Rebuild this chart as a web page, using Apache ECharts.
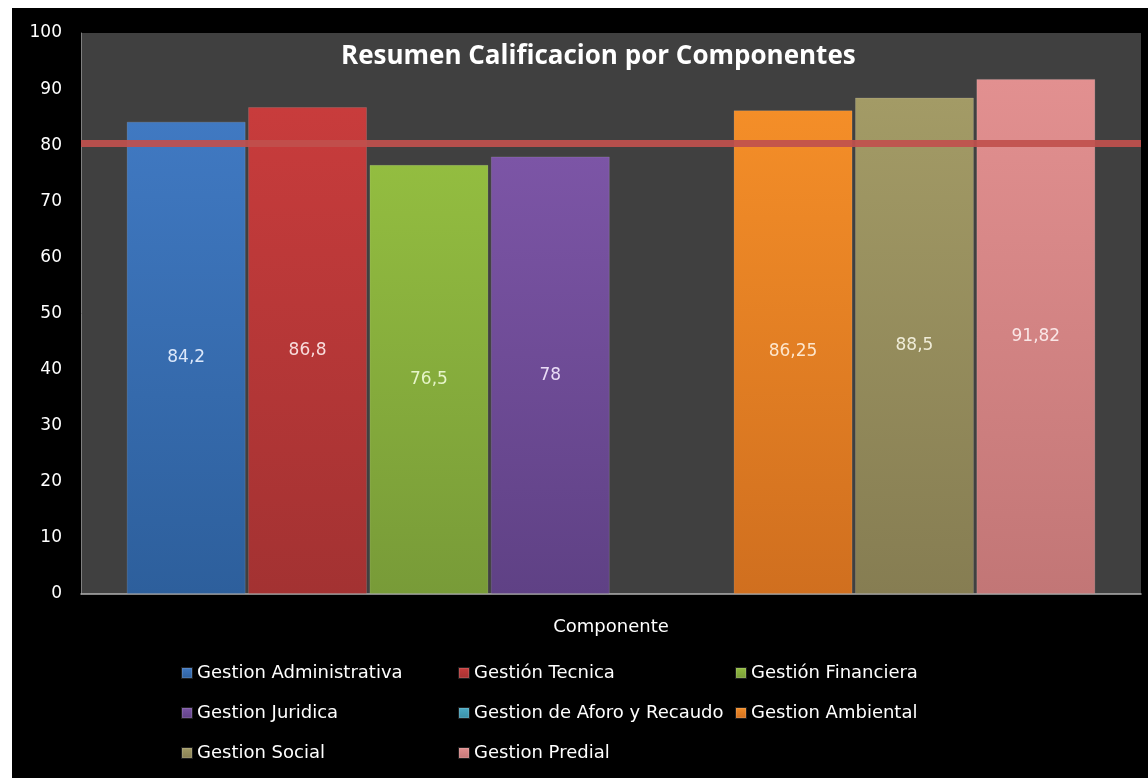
<!DOCTYPE html>
<html>
<head>
<meta charset="utf-8">
<script src="https://cdn.jsdelivr.net/npm/echarts@6/dist/echarts.min.js"></script>
<style>
  html, body { margin: 0; padding: 0; background: #fff; }
  #chart { position: absolute; left: 12px; top: 8px; width: 1136px; height: 770px; background: #000; }
</style>
</head>
<body>
<div id="chart"></div>
<script>
// Resumen calificacion por componentes
var categories = ['Componente'];
var seriesNames = ['Gestion Administrativa', 'Gestión Tecnica', 'Gestión Financiera',
    'Gestion Juridica', 'Gestion de Aforo y Recaudo', 'Gestion Ambiental',
    'Gestion Social', 'Gestion Predial'];
var seriesValues = [84.2, 86.8, 76.5, 78, null, 86.25, 88.5, 91.82];
var referenceLine = 80.4;
var yTicks = [0, 10, 20, 30, 40, 50, 60, 70, 80, 90, 100];

var topColors = ['#4079c2', '#c83c3c', '#93bd40', '#7c55a6', '#4bacc6', '#f48e28', '#a39b66', '#e29090'];
var bottomColors = ['#2d5f9c', '#a33232', '#789b38', '#5f4185', '#3a8ea6', '#d06f1f', '#867d52', '#c27676'];
var labelColors = ['#dce8fa', '#f8dcdc', '#e6f4c8', '#eadcf6', '#e0f4fa', '#fde6cc', '#efecd8', '#fae6e6'];

var myChart = echarts.init(document.getElementById('chart'));

var series = [];
for (var i = 0; i < seriesNames.length; i++) {
    var s = {
        name: seriesNames[i],
        type: 'bar',
        barWidth: 119,
        barGap: '2%',
        data: [seriesValues[i] === null ? '-' : seriesValues[i]],
        itemStyle: {
            color: new echarts.graphic.LinearGradient(0, 0, 0, 1, [
                {offset: 0, color: topColors[i]},
                {offset: 1, color: bottomColors[i]}
            ]),
            borderColor: 'rgba(255,255,255,0.12)',
            borderWidth: 1
        },
        label: {
            show: true,
            position: 'inside',
            color: labelColors[i],
            fontFamily: 'DejaVu Sans',
            fontSize: 17,
            formatter: function (p) { return String(p.value).replace('.', ','); }
        }
    };
    if (i === 0) {
        s.markLine = {
            silent: true,
            symbol: 'none',
            z: 10,
            label: {show: false},
            lineStyle: {color: '#c0504d', width: 7, type: 'solid', opacity: 0.92},
            data: [{yAxis: referenceLine}]
        };
    }
    series.push(s);
}

var legendItem = function (names, left) {
    return {
        orient: 'vertical',
        left: left,
        top: 651,
        itemGap: 22,
        itemWidth: 10,
        itemHeight: 10,
        icon: 'rect',
        textStyle: {color: '#ffffff', fontFamily: 'DejaVu Sans', fontSize: 18, padding: [0, 0, 0, 0]},
        data: names
    };
};

var option = {
    backgroundColor: '#000000',
    animation: false,
    title: {
        text: 'Resumen Calificacion por Componentes',
        left: 329,
        top: 36,
        padding: 0,
        textStyle: {color: '#ffffff', fontFamily: 'Open Sans', fontWeight: 'bold', fontSize: 26}
    },
    legend: [
        legendItem([seriesNames[0], seriesNames[3], seriesNames[6]], 164),
        legendItem([seriesNames[1], seriesNames[4], seriesNames[7]], 441),
        legendItem([seriesNames[2], seriesNames[5]], 718)
    ],
    grid: {
        left: 69, top: 25, right: 7, bottom: 184,
        show: true,
        backgroundColor: '#404040',
        borderWidth: 0
    },
    xAxis: {
        type: 'category',
        data: categories,
        name: 'Componente',
        nameLocation: 'middle',
        nameGap: 24,
        nameTextStyle: {color: '#ffffff', fontFamily: 'DejaVu Sans', fontSize: 18},
        axisLabel: {show: false},
        axisTick: {show: false},
        axisLine: {lineStyle: {color: '#b0b0b0', width: 1.5}}
    },
    yAxis: {
        type: 'value',
        min: yTicks[0],
        max: yTicks[yTicks.length - 1],
        interval: 10,
        splitLine: {show: false},
        axisTick: {show: false},
        axisLine: {show: true, lineStyle: {color: '#808080', width: 1}},
        axisLabel: {color: '#ffffff', fontFamily: 'DejaVu Sans', fontSize: 17, margin: 19}
    },
    series: series
};

myChart.setOption(option);
</script>
</body>
</html>
